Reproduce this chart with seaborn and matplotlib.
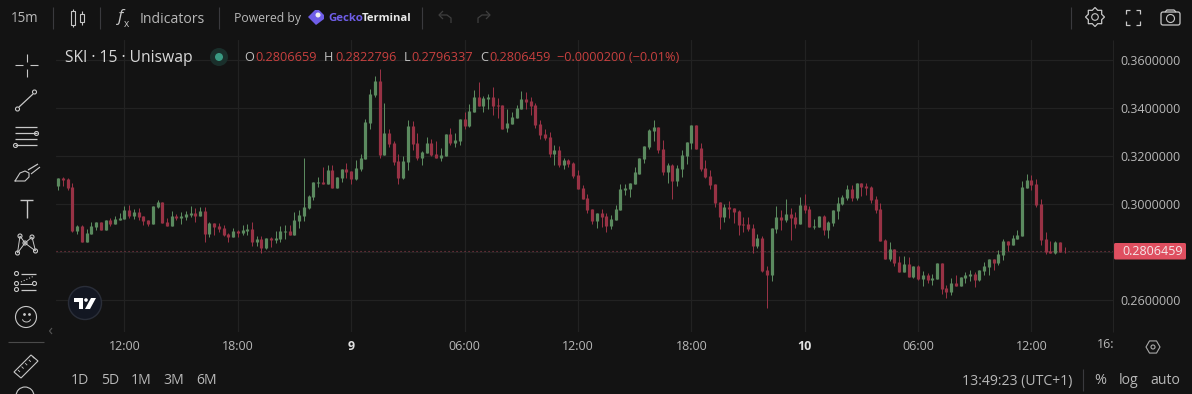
import numpy as np
import pandas as pd
import matplotlib
matplotlib.use("Agg")
import matplotlib.pyplot as plt
from matplotlib.patches import Circle, Rectangle, Polygon, FancyBboxPatch, RegularPolygon
import seaborn as sns

# OHLC values, in units of 0.0001 price
opens = [3077,3110,3106,3072,2889,2910,2843,2877,2906,2927,2893,2935,2918,2935,2939,2977,2952,2968,2952,2935,
 2918,2989,3010,2927,2910,2952,2943,2947,2956,2964,2952,2972,2877,2922,2910,2902,2877,2864,2889,2881,
 2889,2897,2843,2856,2818,2860,2852,2856,2885,2889,2872,2931,2952,2985,3031,3089,3093,3085,3143,3068,
 3110,3147,3139,3106,3147,3189,3339,3456,3514,3206,3297,3256,3181,3110,3177,3327,3256,3193,3214,3256,
 3210,3193,3202,3293,3256,3264,3356,3327,3385,3447,3410,3439,3447,3414,3414,3318,3335,3360,3397,3439,
 3431,3414,3335,3293,3281,3210,3227,3164,3185,3172,3122,3068,3027,2981,2931,2964,2952,2910,2935,2977,
 3060,3064,3085,3127,3189,3239,3305,3322,3230,3135,3164,3097,3147,3201,3255,3330,3235,3151,3118,3085,
 3010,2947,2989,2985,2972,2918,2918,2901,2826,2860,2726,2705,2897,2947,2935,2960,2947,2918,2997,2980,
 2905,2905,2951,2893,2922,2972,3001,3026,3064,3026,3089,3076,3072,3023,2981,2852,2772,2814,2760,2718,
 2752,2697,2743,2689,2706,2685,2689,2756,2652,2635,2672,2660,2693,2702,2710,2685,2722,2739,2772,2756,
 2789,2847,2831,2856,2868,3068,3102,3085,3002,2856,2806,2797,2843,2806.659]
highs = [3110,3114,3110,3089,2914,2914,2897,2927,2927,2927,2935,2943,2952,2964,2993,2997,2981,2985,2952,2935,
 2993,3018,3010,2943,2972,2960,2968,2972,2993,2985,2989,2989,2927,2922,2922,2914,2881,2902,2893,2914,
 2918,2927,2868,2868,2860,2864,2889,2910,2914,2914,2968,2977,3193,3039,3093,3114,3156,3164,3164,3114,
 3147,3172,3139,3185,3210,3356,3481,3535,3565,3422,3314,3264,3210,3202,3352,3347,3297,3222,3281,3272,
 3264,3235,3293,3318,3297,3356,3385,3418,3477,3510,3452,3460,3489,3443,3414,3397,3385,3414,3472,3468,
 3447,3422,3352,3314,3302,3247,3243,3193,3189,3177,3143,3081,3043,2981,2964,2981,2964,2956,2997,3085,
 3085,3089,3156,3193,3243,3314,3351,3322,3268,3172,3168,3164,3226,3260,3330,3330,3255,3185,3143,3085,
 3010,3001,3014,2985,2976,2947,2947,2918,2876,2868,2743,2901,2993,2976,3022,2985,2968,3030,3043,2993,
 2939,2951,2955,2930,2976,3030,3039,3080,3080,3089,3089,3089,3077,3035,3006,2856,2843,2814,2785,2785,
 2781,2743,2748,2722,2714,2710,2756,2756,2664,2693,2706,2697,2718,2727,2718,2727,2760,2772,2772,2810,
 2856,2847,2872,2893,3097,3127,3122,3106,3023,2885,2847,2847,2843,2822.796]
lows = [3060,3077,3060,2885,2877,2843,2843,2877,2893,2893,2893,2910,2918,2935,2939,2945,2939,2935,2914,2910,
 2918,2985,2922,2910,2910,2935,2918,2935,2947,2927,2952,2843,2864,2872,2885,2868,2843,2864,2864,2872,
 2872,2827,2827,2797,2814,2822,2839,2843,2856,2872,2872,2902,2931,2981,3018,3072,3085,3085,3068,3068,
 3093,3110,3085,3102,3139,3189,3314,3447,3193,3206,3239,3164,3085,3106,3143,3227,3185,3164,3214,3202,
 3193,3181,3202,3247,3239,3247,3314,3322,3385,3410,3385,3397,3372,3360,3314,3302,3335,3360,3397,3397,
 3372,3318,3272,3268,3197,3164,3156,3147,3156,3110,3064,3022,2964,2918,2902,2906,2885,2897,2935,2977,
 3039,3031,3085,3127,3172,3230,3264,3214,3122,3089,3022,3076,3114,3168,3230,3230,3139,3110,3064,2989,
 2897,2926,2943,2922,2872,2885,2889,2797,2818,2718,2568,2680,2880,2893,2926,2851,2901,2918,2964,2905,
 2897,2905,2872,2860,2910,2939,2997,3018,3014,3018,3035,3039,3006,2964,2847,2772,2764,2743,2718,2718,
 2697,2693,2685,2660,2672,2664,2689,2627,2610,2622,2660,2660,2672,2681,2656,2680,2706,2706,2727,2747,
 2768,2806,2831,2856,2868,3068,3060,2989,2831,2793,2797,2793,2802,2796.337]
closes = [3110,3102,3068,2889,2910,2843,2881,2910,2927,2893,2935,2918,2939,2943,2977,2952,2968,2947,2931,2918,
 2993,3010,2922,2910,2952,2943,2952,2960,2964,2952,2972,2877,2922,2906,2897,2872,2864,2889,2881,2893,
 2897,2843,2856,2818,2860,2852,2860,2889,2889,2872,2935,2956,2989,3035,3093,3093,3085,3143,3068,3114,
 3147,3135,3106,3152,3193,3343,3460,3514,3206,3297,3252,3177,3110,3181,3327,3252,3193,3218,3256,3206,
 3193,3206,3293,3256,3268,3356,3327,3389,3447,3410,3443,3447,3410,3410,3314,3339,3364,3402,3439,3427,
 3410,3331,3289,3277,3210,3227,3164,3185,3168,3118,3064,3022,2977,2931,2964,2947,2910,2939,2981,3064,
 3068,3089,3135,3193,3243,3310,3322,3226,3135,3164,3097,3151,3205,3260,3330,3230,3147,3114,3081,3005,
 2947,2989,2980,2968,2914,2914,2897,2826,2860,2722,2705,2901,2947,2935,2960,2943,2918,2997,2976,2905,
 2910,2951,2893,2926,2976,3005,3030,3064,3026,3089,3072,3068,3018,2977,2847,2772,2814,2756,2718,2752,
 2697,2743,2689,2706,2685,2693,2756,2647,2635,2672,2660,2697,2706,2710,2685,2727,2743,2772,2756,2793,
 2847,2831,2860,2872,3072,3102,3081,2997,2852,2802,2797,2843,2802,2806.459]

tick_positions = [14, 38, 62, 86, 110, 134, 158, 182, 206]
tick_labels = ["12:00", "18:00", "9", "06:00", "12:00", "18:00", "10", "06:00", "12:00"]
price_ticks = [0.26, 0.28, 0.30, 0.32, 0.34, 0.36]
period_buttons = ["1D", "5D", "1M", "3M", "6M"]

BG = "#131313"
GRID = "#222222"
TXT = "#b8b8b8"
ICON = "#c8c8c8"
UP = "#5b8a5f"
DOWN = "#983245"
RED_TXT = "#c8403f"

sns.set_theme(style="dark")
plt.rcParams["font.family"] = ["Open Sans", "DejaVu Sans"]

opens_a, highs_a, lows_a, closes_a = [np.array(v) / 1e4 for v in (opens, highs, lows, closes)]
idx = np.arange(len(opens_a))
direction = np.where(closes_a >= opens_a, "up", "down")
wicks = pd.DataFrame({"i": np.r_[idx, idx], "price": np.r_[lows_a, highs_a],
                      "candle": np.r_[idx, idx], "dir": np.r_[direction, direction]})
bodies = pd.DataFrame({"i": np.r_[idx, idx], "price": np.r_[opens_a, closes_a],
                       "candle": np.r_[idx, idx], "dir": np.r_[direction, direction]})

W, H = 1192, 394
fig = plt.figure(figsize=(W / 100, H / 100), dpi=100, facecolor=BG)
L, R, T, B = 56, 1113, 40, 332
ax = fig.add_axes([L / W, 1 - B / H, (R - L) / W, (B - T) / H], facecolor=BG)

pal = {"up": UP, "down": DOWN}
sns.lineplot(data=wicks, x="i", y="price", units="candle", hue="dir", palette=pal, estimator=None,
             sort=False, legend=False, lw=0.72, solid_capstyle="butt", ax=ax, zorder=3)
sns.lineplot(data=bodies, x="i", y="price", units="candle", hue="dir", palette=pal, estimator=None,
             sort=False, legend=False, lw=2.3, solid_capstyle="butt", ax=ax, zorder=4)

px_per_bar = 4.724
ax.set_xlim((L - 58.3) / px_per_bar, (R - 58.3) / px_per_bar)
ax.set_ylim(0.26 - (B - 300.3) / 48 * 0.02, 0.36 + (60.3 - T) / 48 * 0.02)
ax.set_xticks(tick_positions, tick_labels)
ax.set_yticks(price_ticks, [f"{v:.7f}" for v in price_ticks])
ax.yaxis.tick_right()
ax.tick_params(axis="both", length=0, colors=TXT, labelsize=9)
ax.tick_params(axis="x", pad=5.5)
ax.tick_params(axis="y", pad=5.5)
ax.set_xlabel(""); ax.set_ylabel("")
ax.grid(True, color=GRID, lw=0.9)
ax.set_axisbelow(True)
for s in ax.spines.values():
    s.set_visible(False)
for lab, t in zip(ax.get_xticklabels(), tick_labels):
    if ":" not in t:
        lab.set_fontweight("bold")
        lab.set_color("#e0e0e0")
ax.axhline(closes_a[-1], color="#8a3a48", lw=0.8, ls=(0, (1, 2.6)), zorder=2)

# Overlay for the interface in pixel coordinates
ui = fig.add_axes([0, 0, 1, 1], facecolor="none")
ui.set_xlim(0, W); ui.set_ylim(H, 0); ui.axis("off")

def txt(x, y, s, size=12, color=TXT, ha="left", **kw):
    ui.text(x, y, s, fontsize=size * 0.72, color=color, ha=ha, va="center", **kw)

def ln(xs, ys, color=ICON, lw=0.8, **kw):
    ui.plot(xs, ys, color=color, lw=lw, solid_capstyle="butt", **kw)

def ring(x, y, r, color=ICON, lw=0.8, fc="none"):
    ui.add_patch(Circle((x, y), r, fc=fc, ec=color, lw=lw))

# Separators
for x in (53, 100, 219, 422, 1071):
    ln([x, x], [7, 29], color="#3a3a3e")
ln([1083, 1083], [369, 391], color="#3a3a3e")
ln([R, R], [40, 332], color="#232323")
ln([8, 44], [341.5, 341.5], color="#4a4a4a")

# Top toolbar
txt(11, 18.5, "15m", 13.5)
for x, t0, b0, t1, b1 in [(73, 11, 25, 9, 27), (82, 14, 22, 11, 25)]:
    ui.add_patch(Rectangle((x - 2.2, t0), 4.4, b0 - t0, fc="none", ec=ICON, lw=0.8))
    ln([x, x], [t1, t0]); ln([x, x], [b0, b1])
txt(118, 17, "f", 17, ICON, style="italic")
txt(124, 24, "x", 10, ICON)
txt(140, 19, "Indicators", 14)
txt(234, 18.5, "Powered by", 12.2)
ui.add_patch(Polygon([(308, 17), (315, 10), (319, 10), (324, 15), (324, 19), (316, 25)], fc="#6f5ee8", ec="none"))
ui.add_patch(Circle((318, 15), 2.5, fc="#f0f0f0", ec="none"))
txt(328, 18, "Gecko", 11.5, "#6f5ee8", fontweight="bold")
txt(362, 18, "Terminal", 11.2, "#e8e8e8", fontweight="bold")
for x0, sgn in ((445, 1), (484, -1)):
    ln([x0 - sgn * 6, x0 + sgn * 2, x0 + sgn * 6, x0 + sgn * 6], [15, 15, 18, 23], color="#3f3f3f", lw=0.9)
    ln([x0 - sgn * 2, x0 - sgn * 6, x0 - sgn * 2], [11, 15, 19], color="#3f3f3f", lw=0.9)
gear_a = np.linspace(0, 2 * np.pi, 16, endpoint=False)
gear_r = np.where(np.arange(16) % 2 == 0, 9.5, 7.2)
ui.add_patch(Polygon(np.c_[1095 + gear_r * np.cos(gear_a), 17 + gear_r * np.sin(gear_a)], fc="none", ec=ICON, lw=0.9))
ring(1095, 17, 3.3)
for cx, cy, dx, dy in [(1126, 10, 1, 1), (1140, 10, -1, 1), (1126, 25, 1, -1), (1140, 25, -1, -1)]:
    ln([cx + 4 * dx, cx, cx], [cy, cy, cy + 4 * dy], lw=0.9)
ui.add_patch(FancyBboxPatch((1161, 12), 19, 13, boxstyle="round,pad=0,rounding_size=2", fc="none", ec=ICON, lw=0.9))
ln([1165, 1167, 1174, 1176], [12, 10, 10, 12], lw=0.9)
ring(1170.5, 18.5, 4)

# Legend row
txt(65, 57.5, "SKI · 15 · Uniswap", 15.6, "#d8d8d8")
ui.add_patch(Circle((219, 57), 9, fc="#1a2f2b", ec="none"))
ui.add_patch(Circle((219, 57), 4, fc="#3a9a82", ec="none"))
for x, s in [(244, "O"), (324, "H"), (404, "L"), (480, "C")]:
    txt(x, 57.5, s, 12.8, "#c0c0c0")
for x, s in [(255, "0.2806659"), (335, "0.2822796"), (411, "0.2796337"), (489, "0.2806459"),
             (557, "−0.0000200 (−0.01%)")]:
    txt(x, 57.5, s, 12.8, RED_TXT)

# Left toolbar
ln([15, 23], [65.3, 65.3]); ln([30, 38], [65.3, 65.3])
ln([26.5, 26.5], [54, 62]); ln([26.5, 26.5], [69, 77])
ln([19, 33], [107, 94], lw=0.9); ring(17.5, 109, 2); ring(34.5, 92, 2)
for y in (127, 133, 139, 145):
    ln([15, 37], [y, y], lw=0.9)
ring(36.5, 133.5, 2, fc=BG); ring(15.5, 145.5, 2, fc=BG)
ui.plot([15, 20, 25, 29, 29, 25, 15], [181, 173, 171, 173, 177, 181, 181], color=ICON, lw=0.8)
ln([28, 38], [170, 164], lw=0.9); ln([31, 40], [174, 167], lw=0.8)
ln([20, 33], [200, 200], lw=1); ln([26.5, 26.5], [200, 218], lw=1)
g = [(20, 236), (32, 237), (25, 243), (17.5, 253), (35.5, 251)]
for a, b in [(0, 2), (1, 2), (2, 3), (2, 4), (0, 3), (1, 4)]:
    ln([g[a][0], g[b][0]], [g[a][1], g[b][1]], lw=0.7)
for p in g:
    ring(p[0], p[1], 2, fc=BG, lw=0.8)
for y, x0 in ((273.5, 21), (289.5, 21)):
    ln([x0, 36], [y, y], lw=0.9)
ln([20, 32], [283.5, 283.5], lw=0.8); ln([21, 34], [282, 276], lw=0.8, ls=":")
ring(16.5, 273.5, 2, fc=BG); ring(16.5, 283.5, 2, fc=BG); ring(34.5, 283.5, 2, fc=BG); ring(16.5, 289.5, 2, fc=BG)
ring(26, 317, 10.5, lw=0.8)
ui.plot([24], [314], "o", ms=1, color=ICON); ui.plot([29], [314], "o", ms=1, color=ICON)
t_ = np.linspace(0.2, np.pi - 0.2, 12)
ui.plot(26.5 + 4 * np.cos(t_), 319 + 3 * np.sin(t_), color=ICON, lw=0.7)
ln([52, 49.5, 52], [328, 331, 334], color="#555555")
ui.add_patch(Polygon([(14, 372), (31, 355), (38, 361), (21, 378)], fc="none", ec=ICON, lw=0.8))
for k in range(5):
    ln([18 + k * 3.6, 20 + k * 3.6], [370 - k * 3.4, 372 - k * 3.4], lw=0.6)
ring(25, 396, 9, lw=0.8)

# TradingView badge
ui.add_patch(Circle((85, 303), 16.5, fc="#131722", ec="#2a2e39", lw=1))
ui.add_patch(Polygon([(74, 298), (83, 298), (83, 309), (79, 309), (79, 302), (74, 302)], fc="white", ec="none"))
ui.add_patch(Circle((86, 300), 1.8, fc="white", ec="none"))
ui.add_patch(Polygon([(91, 298), (96, 298), (90, 309), (85, 309)], fc="white", ec="none"))

# Axis extras
txt(1097, 345, "16:", 12.4)
ui.add_patch(RegularPolygon((1153, 347), 6, radius=7, fc="none", ec="#aaaaaa", lw=0.8, orientation=np.pi / 2))
ring(1153, 347, 2, color="#aaaaaa")
ui.add_patch(FancyBboxPatch((1114, 243), 72, 16.5, boxstyle="round,pad=0,rounding_size=1.5", fc="#df4f60", ec="none"))
ui.text(1122, 251.5, f"{closes_a[-1]:.7f}", fontsize=9, color="#f4e8ea", va="center")

# Bottom bar
for x, s in zip((71, 101, 131, 163, 196), period_buttons):
    txt(x, 381, s, 14)
txt(962, 381, "13:49:23 (UTC+1)", 14)
txt(1094, 381, "%", 14.5)
txt(1119, 381, "log", 14)
txt(1150, 381, "auto", 14)

fig.savefig("out.png", dpi=100, facecolor=BG)
